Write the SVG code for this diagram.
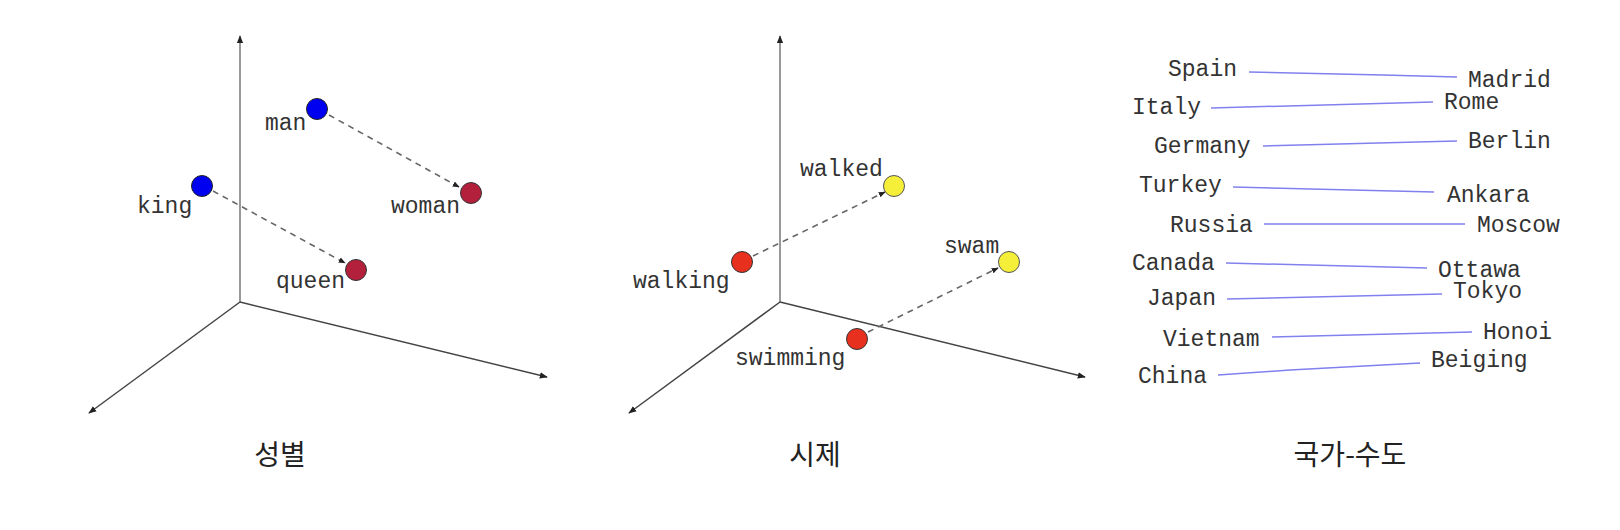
<svg xmlns="http://www.w3.org/2000/svg" width="1620" height="530" viewBox="0 0 1620 530">
<defs>
<marker id="ax" viewBox="0 0 10 10" refX="9" refY="5" markerWidth="8" markerHeight="8" markerUnits="userSpaceOnUse" orient="auto"><path d="M0,1 L10,5 L0,9 Z" fill="#222"/></marker>
<marker id="dh" viewBox="0 0 10 10" refX="9" refY="5" markerWidth="7" markerHeight="7" markerUnits="userSpaceOnUse" orient="auto"><path d="M0,1 L10,5 L0,9 Z" fill="#222"/></marker>
<style>
.axis{stroke:#444;stroke-width:1.5;fill:none}
.vax{stroke:#777;stroke-width:1.5;fill:none}
.dash{stroke:#666;stroke-width:1.6;stroke-dasharray:6 5;fill:none}
.cap{stroke:#8080ee;stroke-width:1.5;fill:none}
.lbl{font-family:"Liberation Mono","DejaVu Sans Mono",monospace;font-size:23px;fill:#333}
.title{font-family:"Noto Sans CJK KR","Noto Sans",sans-serif;font-size:28px;fill:#222;text-anchor:middle}
.blue{fill:#0000f0;stroke:#222;stroke-width:1}
.crim{fill:#b3203c;stroke:#333;stroke-width:1}
.red{fill:#e8301e;stroke:#333;stroke-width:1}
.yel{fill:#f6ef3a;stroke:#555;stroke-width:1}
</style>
</defs>
<rect width="1620" height="530" fill="#fff"/>

<g id="axes">
<line class="vax" x1="240" y1="302" x2="240" y2="36" marker-end="url(#ax)"/>
<line class="axis" x1="240" y1="302" x2="89" y2="413" marker-end="url(#ax)"/>
<line class="axis" x1="240" y1="302" x2="547" y2="377" marker-end="url(#ax)"/>
<line class="vax" x1="780" y1="302" x2="780" y2="36" marker-end="url(#ax)"/>
<line class="axis" x1="780" y1="302" x2="629" y2="413" marker-end="url(#ax)"/>
<line class="axis" x1="780" y1="302" x2="1085" y2="377" marker-end="url(#ax)"/>
</g>

<g id="connectors">
<line class="dash" x1="329" y1="115" x2="459" y2="187" marker-end="url(#dh)"/>
<line class="dash" x1="213" y1="191" x2="345" y2="263" marker-end="url(#dh)"/>
<line class="dash" x1="753" y1="256" x2="885" y2="192" marker-end="url(#dh)"/>
<line class="dash" x1="868" y1="332" x2="998" y2="268" marker-end="url(#dh)"/>
<polyline class="cap" points="1249,72 1383,75 1457,77"/>
<polyline class="cap" points="1211,108 1433,102"/>
<polyline class="cap" points="1263,146 1457,141"/>
<polyline class="cap" points="1233,187 1434,192"/>
<polyline class="cap" points="1264,224 1465,224"/>
<polyline class="cap" points="1226,263 1427,268"/>
<polyline class="cap" points="1227,299 1442,294"/>
<polyline class="cap" points="1272,337 1472,332"/>
<polyline class="cap" points="1218,375 1290,370 1420,363"/>
</g>

<g id="man"><circle class="blue" cx="317" cy="109" r="10.5"/><text class="lbl" x="265" y="130">man</text></g>
<g id="king"><circle class="blue" cx="202" cy="186" r="10.5"/><text class="lbl" x="137" y="213">king</text></g>
<g id="woman"><circle class="crim" cx="471" cy="193" r="10.5"/><text class="lbl" x="391" y="213">woman</text></g>
<g id="queen"><circle class="crim" cx="356" cy="270" r="10.5"/><text class="lbl" x="276" y="288">queen</text></g>

<g id="walked"><circle class="yel" cx="894" cy="186" r="10.5"/><text class="lbl" x="800" y="176">walked</text></g>
<g id="swam"><circle class="yel" cx="1009" cy="262" r="10.5"/><text class="lbl" x="944" y="253">swam</text></g>
<g id="walking"><circle class="red" cx="742" cy="262" r="10.5"/><text class="lbl" x="633" y="288">walking</text></g>
<g id="swimming"><circle class="red" cx="857" cy="339" r="10.5"/><text class="lbl" x="735" y="365">swimming</text></g>

<g id="countries">
<text class="lbl" x="1168" y="76">Spain</text>
<text class="lbl" x="1132" y="114">Italy</text>
<text class="lbl" x="1154" y="153">Germany</text>
<text class="lbl" x="1139" y="192">Turkey</text>
<text class="lbl" x="1170" y="232">Russia</text>
<text class="lbl" x="1132" y="270">Canada</text>
<text class="lbl" x="1147" y="305">Japan</text>
<text class="lbl" x="1163" y="346">Vietnam</text>
<text class="lbl" x="1138" y="383">China</text>
</g>
<g id="capitals">
<text class="lbl" x="1468" y="87">Madrid</text>
<text class="lbl" x="1444" y="109">Rome</text>
<text class="lbl" x="1468" y="148">Berlin</text>
<text class="lbl" x="1447" y="202">Ankara</text>
<text class="lbl" x="1477" y="232">Moscow</text>
<text class="lbl" x="1438" y="277">Ottawa</text>
<text class="lbl" x="1453" y="298">Tokyo</text>
<text class="lbl" x="1483" y="339">Honoi</text>
<text class="lbl" x="1431" y="367">Beiging</text>
</g>

<g id="titles">
<text class="title" x="280" y="465">성별</text>
<text class="title" x="815" y="465">시제</text>
<text class="title" x="1350" y="465">국가-수도</text>
</g>
</svg>
